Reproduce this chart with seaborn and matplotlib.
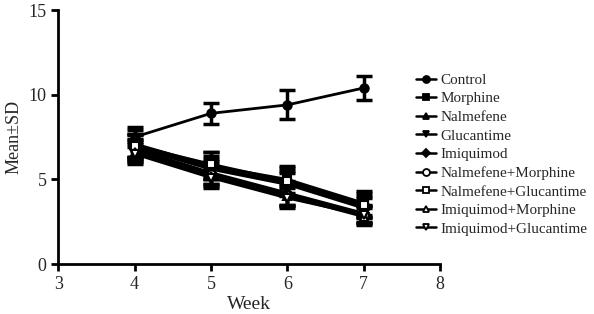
import matplotlib
matplotlib.use("Agg")
import matplotlib.pyplot as plt
import seaborn as sns
import pandas as pd
from matplotlib.lines import Line2D

weeks = [4, 5, 6, 7]
groups = ["Control", "Morphine", "Nalmefene", "Glucantime", "Imiquimod",
          "Nalmefene+Morphine", "Nalmefene+Glucantime", "Imiquimod+Morphine",
          "Imiquimod+Glucantime"]
control = [7.5, 8.9, 9.4, 10.4]
morphine = [7.1, 5.8, 5.0, 3.6]
nalmefene = [7.0, 5.7, 4.8, 3.4]
glucantime = [6.9, 5.6, 4.7, 3.3]
imiquimod = [6.8, 5.4, 4.2, 3.0]
nalm_morph = [6.7, 5.3, 4.1, 2.9]
nalm_gluc = [7.0, 5.9, 4.9, 3.5]
imiq_morph = [6.6, 5.2, 4.0, 2.8]
imiq_gluc = [6.5, 5.1, 3.9, 2.9]
sd_control = [0.6, 0.6, 0.85, 0.7]
sd_morphine = [0.8, 0.8, 0.8, 0.7]
sd_nalmefene = [0.7, 0.7, 0.7, 0.6]
sd_glucantime = [0.7, 0.6, 0.7, 0.6]
sd_imiquimod = [0.6, 0.7, 0.7, 0.5]
sd_nalm_morph = [0.6, 0.6, 0.6, 0.5]
sd_nalm_gluc = [0.7, 0.7, 0.8, 0.7]
sd_imiq_morph = [0.6, 0.6, 0.6, 0.5]
sd_imiq_gluc = [0.6, 0.6, 0.6, 0.5]

means = [control, morphine, nalmefene, glucantime, imiquimod,
         nalm_morph, nalm_gluc, imiq_morph, imiq_gluc]
sds = [sd_control, sd_morphine, sd_nalmefene, sd_glucantime, sd_imiquimod,
       sd_nalm_morph, sd_nalm_gluc, sd_imiq_morph, sd_imiq_gluc]
markers = ["o", "s", "^", "v", "D", "o", "s", "^", "v"]
filled = [True, True, True, True, True, False, False, False, False]

rows = []
for g, m, s in zip(groups, means, sds):
    for w, v, e in zip(weeks, m, s):
        rows.append({"Week": w, "Value": v, "SD": e, "Group": g})
df = pd.DataFrame(rows)

sns.set_style("ticks")
plt.rcParams["font.family"] = ["Liberation Serif", "DejaVu Serif"]

fig = plt.figure(figsize=(5.94, 3.14), dpi=100)
ax = fig.add_axes([0.098, 0.159, 0.643, 0.809])

for i, g in enumerate(groups):
    sub = df[df["Group"] == g]
    ax.errorbar(sub["Week"], sub["Value"], yerr=sub["SD"], fmt="none",
                ecolor="black", elinewidth=2.5, capsize=5.5, capthick=2.5, zorder=2)
    sns.lineplot(data=sub, x="Week", y="Value", ax=ax, color="black",
                 linewidth=2, marker=markers[i], markersize=6 if markers[i] != "D" else 5,
                 markerfacecolor="black" if filled[i] else "white",
                 markeredgecolor="black", markeredgewidth=1.5, legend=False, zorder=3)

ax.set_xlim(3, 8)
ax.set_ylim(0, 15)
ax.set_xticks([3, 4, 5, 6, 7, 8])
ax.set_yticks([0, 5, 10, 15])
ax.set_xlabel("Week", fontsize=14, labelpad=2)
ax.set_ylabel("Mean±SD", fontsize=13, labelpad=4)
ax.tick_params(axis="both", labelsize=13, width=2, length=5, color="black", direction="out")
for sp in ["top", "right"]:
    ax.spines[sp].set_visible(False)
for sp in ["left", "bottom"]:
    ax.spines[sp].set_linewidth(2)
    ax.spines[sp].set_color("black")

handles = [Line2D([0], [0], color="black", lw=1.8, marker=markers[i],
                  markersize=5 if markers[i] != "D" else 4.5,
                  markerfacecolor="black" if filled[i] else "white",
                  markeredgecolor="black", markeredgewidth=1.3)
           for i in range(len(groups))]
fig.legend(handles, groups, loc="upper left", bbox_to_anchor=(0.69, 0.786),
           frameon=False, fontsize=10.9, handlelength=1.3, handletextpad=0.3,
           labelspacing=0.33, borderaxespad=0)

fig.savefig("out.png", dpi=100)
